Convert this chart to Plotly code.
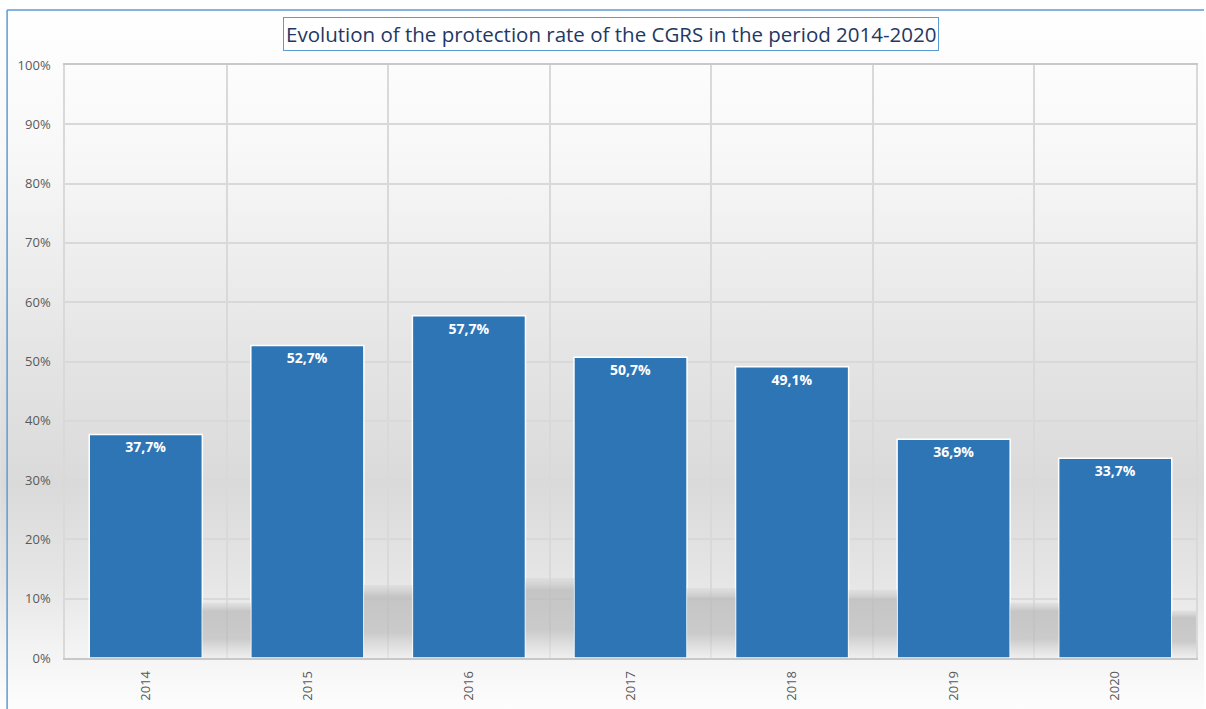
import base64
import plotly.graph_objects as go

years = ["2014", "2015", "2016", "2017", "2018", "2019", "2020"]
rates = [37.7, 52.7, 57.7, 50.7, 49.1, 36.9, 33.7]
labels = ["37,7%", "52,7%", "57,7%", "50,7%", "49,1%", "36,9%", "33,7%"]
shadow = [9.3, 12.3, 13.5, 11.8, 11.5, 9.3, 8.0]
y_ticks = [0, 10, 20, 30, 40, 50, 60, 70, 80, 90, 100]
y_ticktext = [f"{v}%" for v in y_ticks]
title = "Evolution of the protection rate of the CGRS in the period 2014-2020"

svg = """<svg xmlns='http://www.w3.org/2000/svg' width='100' height='100' preserveAspectRatio='none'>
<defs><linearGradient id='g' x1='0' y1='0' x2='0' y2='1'>
<stop offset='0' stop-color='#ffffff'/>
<stop offset='0.2' stop-color='#f8f8f8'/>
<stop offset='0.5' stop-color='#e4e4e4'/>
<stop offset='0.68' stop-color='#dadada'/>
<stop offset='0.82' stop-color='#e6e6e6'/>
<stop offset='0.92' stop-color='#f4f4f4'/>
<stop offset='1' stop-color='#fdfdfd'/>
</linearGradient></defs>
<rect width='100' height='100' fill='url(#g)'/></svg>"""
bg = "data:image/svg+xml;base64," + base64.b64encode(svg.encode()).decode()

fig = go.Figure()

# soft shadows beside bars, on a numeric overlay axis aligned to categories
for i, h in enumerate(shadow):
    x0, x1 = i + 0.35, i + 0.65
    fig.add_trace(go.Scatter(
        x=[x0, x1, x1, x0, x0], y=[0, 0, h, h, 0],
        xaxis="x2", mode="lines", line=dict(width=0),
        fill="toself",
        fillgradient=dict(type="vertical", colorscale=[
            [0.0, "rgba(235,235,235,0.6)"],
            [0.35, "rgba(190,190,190,0.75)"],
            [0.85, "rgba(188,188,188,0.8)"],
            [1.0, "rgba(215,215,215,0.5)"],
        ]),
        hoverinfo="skip", showlegend=False,
    ))

fig.add_trace(go.Bar(
    x=years, y=rates, width=0.70,
    marker=dict(color="#2e75b6", line=dict(color="white", width=1.5)),
    text=labels, textposition="inside", insidetextanchor="end",
    textfont=dict(color="white", size=14, family="Open Sans"),
    texttemplate="<b>%{text}</b>", textangle=0,
    showlegend=False,
))

fig.update_layout(
    width=1206, height=709,
    margin=dict(l=65, r=8, t=65, b=51),
    paper_bgcolor="white",
    plot_bgcolor="rgba(0,0,0,0)",
    font=dict(family="Open Sans", color="#595959", size=13),
    images=[dict(source=bg, xref="paper", yref="paper", x=-65/1133, y=1 + 55/593,
                 sizex=1 + 65/1133 + 8/1133, sizey=1 + 55/593 + 51/593,
                 sizing="stretch", layer="below", xanchor="left", yanchor="top")],
    xaxis=dict(
        type="category", tickson="boundaries", showgrid=True,
        gridcolor="#d9d9d9", gridwidth=1.5, tickangle=-90,
        showline=True, linecolor="#c8c8c8", linewidth=1.5, mirror=True,
        ticks="", ticklabelstandoff=6, tickfont=dict(size=13, color="#595959"),
    ),
    xaxis2=dict(overlaying="x", range=[-0.5, 6.5], visible=False, showgrid=False),
    yaxis=dict(
        range=[0, 100], tickvals=y_ticks, ticktext=y_ticktext,
        showgrid=True, gridcolor="#d9d9d9", gridwidth=1.5,
        showline=True, linecolor="#d9d9d9", linewidth=1.5, mirror=True,
        zeroline=False, ticks="", ticklabelstandoff=10,
        tickfont=dict(size=13, color="#595959"),
    ),
    shapes=[
        dict(type="line", xref="paper", yref="paper", x0=-58/1133, x1=1 + 8/1133,
             y0=1 + 55/593, y1=1 + 55/593, line=dict(color="#5b9bd5", width=1.5)),
        dict(type="line", xref="paper", yref="paper", x0=-58/1133, x1=-58/1133,
             y0=1 + 55/593, y1=-51/593, line=dict(color="#5b9bd5", width=1.5)),
    ],
    annotations=[dict(
        text=title, xref="paper", yref="paper", x=(612 - 65) / 1133, y=1 + 31/593,
        showarrow=False, xanchor="center", yanchor="middle",
        font=dict(size=20.5, color="#1f3864", family="Open Sans"),
        bordercolor="#5b9bd5", borderwidth=1, borderpad=2, bgcolor="white",
    )],
)

fig.write_html("out.html", config={"displayModeBar": False},
               post_script="document.body.style.margin='0';")
